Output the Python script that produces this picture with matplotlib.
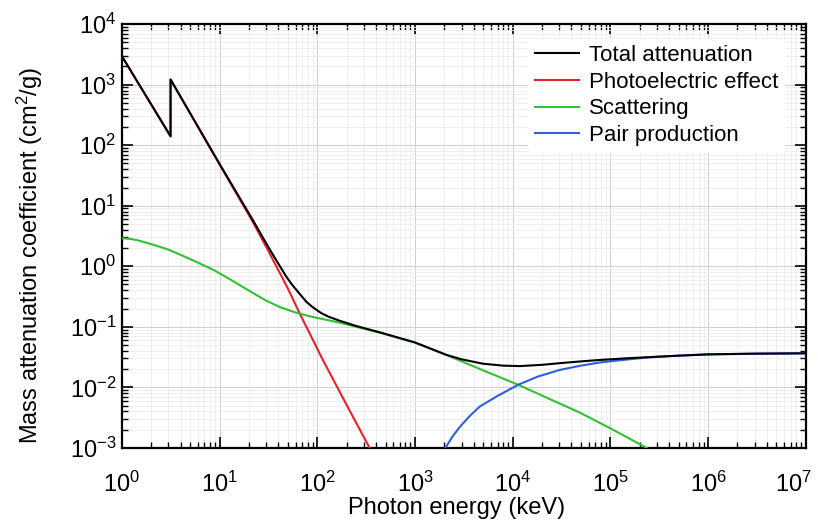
import matplotlib
matplotlib.use('Agg')
import matplotlib.pyplot as plt
import matplotlib.transforms as mtransforms
from matplotlib.ticker import LogLocator, NullFormatter

plt.rcParams['font.family'] = ['Liberation Sans', 'DejaVu Sans']
plt.rcParams['mathtext.fontset'] = 'custom'
plt.rcParams['mathtext.rm'] = 'Liberation Sans'
plt.rcParams['mathtext.it'] = 'Liberation Sans:italic'

# photon energy (keV) and mass attenuation coefficient (cm^2/g)
total_e = [1, 3.15, 3.15, 10, 21.9, 28, 32, 40, 48, 55, 66, 78, 90, 110, 130, 169,
           250, 435, 700, 1000, 2100, 3000, 5000, 8000, 11800, 20000, 30000, 50000,
           78000, 1.5e5, 3e5, 1e6, 3e6, 1e7]
total_mu = [2960, 141, 1220, 49, 5.8, 2.9, 2.0, 1.1, 0.68, 0.5, 0.35, 0.255, 0.21,
            0.168, 0.147, 0.126, 0.103, 0.081, 0.065, 0.055, 0.0343, 0.029, 0.0245,
            0.0228, 0.0224, 0.0235, 0.025, 0.0268, 0.0283, 0.0302, 0.032, 0.035,
            0.036, 0.0365]

photo_e = [1, 3.15, 3.15, 10, 21.9, 32, 50, 66, 114, 200, 343]
photo_mu = [2950, 139, 1218, 48, 5.4, 1.72, 0.43, 0.167, 0.0284, 0.0051, 0.001]

scatter_e = [1, 1.25, 1.5, 2.15, 3, 4.04, 6, 8.9, 13, 19.5, 30, 42, 58.5, 80, 100,
             169, 250, 435, 1000, 2100, 5000, 11400, 25000, 49000, 1e5, 2.35e5]
scatter_mu = [2.9, 2.82, 2.65, 2.24, 1.88, 1.53, 1.15, 0.85, 0.6, 0.405, 0.27, 0.21,
              0.174, 0.152, 0.14, 0.117, 0.1, 0.08, 0.055, 0.0343, 0.019, 0.011,
              0.0062, 0.0038, 0.0021, 0.001]

pair_e = [2050, 2400, 2870, 3600, 4600, 7000, 11400, 18000, 30400, 50000, 78000,
          1.3e5, 2.35e5, 5e5, 1e6, 3e6, 1e7]
pair_mu = [0.001, 0.0015, 0.0022, 0.0033, 0.0048, 0.0072, 0.011, 0.015, 0.0194,
           0.0228, 0.0257, 0.0282, 0.031, 0.0335, 0.035, 0.0358, 0.0363]

fig = plt.figure(figsize=(8.18, 5.25), dpi=100)
ax = fig.add_axes([0.149, 0.147, 0.836, 0.807])

ax.plot(photo_e, photo_mu, color='#e3222b', lw=1.5, label='Photoelectric effect', zorder=3)
ax.plot(scatter_e, scatter_mu, color='#33c032', lw=1.5, label='Scattering', zorder=3)
ax.plot(pair_e, pair_mu, color='#2d5fe0', lw=1.5, label='Pair production', zorder=3)
ax.plot(total_e, total_mu, color='black', lw=1.5, label='Total attenuation', zorder=4)

ax.set_xscale('log')
ax.set_yscale('log')
ax.set_xlim(1, 1e7)
ax.set_ylim(1e-3, 1e4)

ax.xaxis.set_major_locator(LogLocator(base=10, numticks=20))
ax.yaxis.set_major_locator(LogLocator(base=10, numticks=20))
ax.xaxis.set_minor_locator(LogLocator(base=10, subs=range(2, 10), numticks=100))
ax.yaxis.set_minor_locator(LogLocator(base=10, subs=range(2, 10), numticks=100))
ax.xaxis.set_minor_formatter(NullFormatter())
ax.yaxis.set_minor_formatter(NullFormatter())

ax.tick_params(which='both', direction='in', top=True, right=True, colors='black')
ax.tick_params(which='major', length=8, width=1.2, labelsize=17)
ax.tick_params(which='minor', length=4, width=1.0)
ax.tick_params(axis='x', which='major', pad=17)
ax.tick_params(axis='y', which='major', pad=4)
for s in ax.spines.values():
    s.set_linewidth(1.6)

ax.grid(which='major', color='#cfcfcf', lw=0.7)
ax.grid(which='minor', color='#ececec', lw=0.6)
ax.set_axisbelow(True)

ax.set_xlabel('Photon energy (keV)', fontsize=17)
ax.set_ylabel('Mass attenuation coefficient (cm$^2$/g)', fontsize=17)
ax.xaxis.set_label_coords(0.49, -0.116)
ax.yaxis.set_label_coords(-0.113, 0.455)

h, l = ax.get_legend_handles_labels()
order = [3, 0, 1, 2]
leg = ax.legend([h[i] for i in order], [l[i] for i in order], loc='upper left',
                bbox_to_anchor=(0.594, 0.966), borderaxespad=0, fontsize=16,
                frameon=True, facecolor='white', edgecolor='none', framealpha=1.0,
                handlelength=2.0, handletextpad=0.45, labelspacing=0.25,
                borderpad=0.3)
leg.set_zorder(5)

# last x tick label sits at the figure edge: nudge it left like the original
fig.canvas.draw()
shift = mtransforms.ScaledTranslation(-9 / 72, 0, fig.dpi_scale_trans)
for lab in ax.get_xticklabels():
    if '{7}' in lab.get_text():
        lab.set_transform(lab.get_transform() + shift)

fig.savefig('out.png', dpi=100)
